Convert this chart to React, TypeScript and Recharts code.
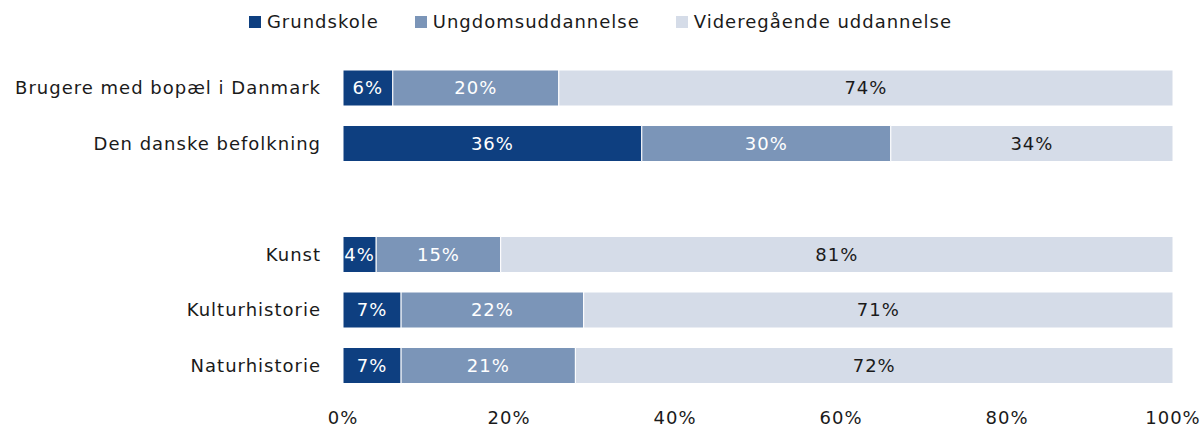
import { BarChart, Bar, XAxis, YAxis, LabelList } from 'recharts'

const categories = ['Brugere med bopæl i Danmark', 'Den danske befolkning', '', 'Kunst', 'Kulturhistorie', 'Naturhistorie']
const grundskole = [6, 36, null, 4, 7, 7]
const ungdom = [20, 30, null, 15, 22, 21]
const videre = [74, 34, null, 81, 71, 72]
const xTicks = [0, 20, 40, 60, 80, 100]

const series = [
  { key: 'grundskole', name: 'Grundskole', color: '#0e3f80', text: '#fff' },
  { key: 'ungdom', name: 'Ungdomsuddannelse', color: '#7b95b8', text: '#fff' },
  { key: 'videre', name: 'Videregående uddannelse', color: '#d5dce8', text: '#1a1a1a' },
]

const data = categories.map((c, i) => ({ name: c, grundskole: grundskole[i], ungdom: ungdom[i], videre: videre[i] }))

const font = '"DejaVu Sans", sans-serif'
const txt = { fontSize: 18, fontFamily: font, letterSpacing: 1 }

// legend drawn as html on top of the chart so it doesn't eat plot space
function LegendBox() {
  return (
    <div style={{ position: 'absolute', left: 0, top: 11, width: 1201, display: 'flex', justifyContent: 'center', gap: 36,
      fontFamily: font, fontSize: 18, letterSpacing: 1, color: '#1a1a1a', lineHeight: '22px' }}>
      {series.map(s => (
        <div key={s.key} style={{ display: 'flex', alignItems: 'center', gap: 6 }}>
          <span style={{ width: 12, height: 12, background: s.color, display: 'inline-block' }} />
          <span>{s.name}</span>
        </div>
      ))}
    </div>
  )
}

export default function App() {
  return (
    <div style={{ position: 'absolute', left: 0, top: 0, width: 1201, height: 427, background: '#fff' }}>
      <BarChart width={1201} height={427} data={data} layout="vertical" margin={{ top: 60, right: 28, bottom: 0, left: 0 }} barSize={36}>
        <XAxis type="number" domain={[0, 100]} ticks={xTicks} tickFormatter={v => `${v}%`} axisLine={false} tickLine={false}
          tickSize={0} tickMargin={18} height={34} tick={{ ...txt, fill: '#1a1a1a' }} interval={0} />
        <YAxis type="category" dataKey="name" width={343} axisLine={false} tickLine={false} tickSize={0} tickMargin={22}
          tick={{ ...txt, fill: '#1a1a1a' }} interval={0} />
        {series.map(s => (
          <Bar key={s.key} dataKey={s.key} name={s.name} stackId="a" fill={s.color} stroke="#fff" strokeWidth={1} isAnimationActive={false}>
            <LabelList dataKey={s.key} position="center" formatter={(v: any) => (v == null ? '' : `${v}%`)}
              style={{ ...txt, fill: s.text }} />
          </Bar>
        ))}
      </BarChart>
      <LegendBox />
    </div>
  )
}
